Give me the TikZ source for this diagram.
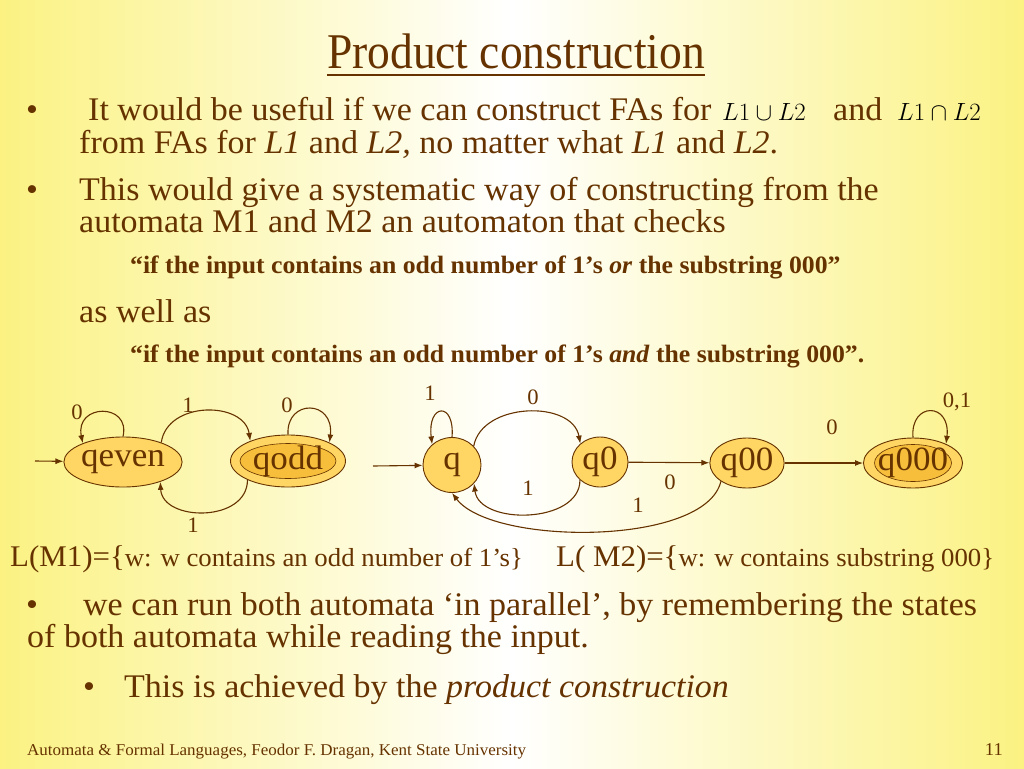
\documentclass[tikz,border=0pt]{standalone}
\usepackage{amsmath,amssymb}
\usepackage{fontspec}
\setmainfont[FakeStretch=1.03]{Liberation Serif}
\newfontfamily\titlefam[FakeStretch=0.91]{Liberation Serif}
\usepackage{xcolor}
\usetikzlibrary{arrows.meta,positioning,shapes.geometric}

\definecolor{textc}{RGB}{102,51,0}
\definecolor{bgy}{RGB}{251,242,130}
\definecolor{statec}{RGB}{255,214,100}
\definecolor{accin}{RGB}{246,190,58}

\newcommand{\bodyfont}{\fontsize{33}{38}\selectfont}
\newcommand{\quotefont}{\fontsize{25}{29}\selectfont\bfseries}
\newcommand{\labfont}{\fontsize{22}{24}\selectfont}
\newcommand{\smallset}{\fontsize{26}{28}\selectfont}

\begin{document}
\begin{tikzpicture}[
		x=1pt, y=1pt,
		txt/.style={anchor=base west, inner sep=0pt, text=textc, font=\bodyfont},
		qtxt/.style={anchor=base west, inner sep=0pt, text=textc, font=\quotefont},
		lab/.style={inner sep=0pt, text=textc, font=\labfont},
		state/.style={
			ellipse,
			draw=textc,
			fill=statec,
			line width=0.9pt,
			inner sep=0pt,
			text=textc,
			font=\fontsize{34}{34}\selectfont
		},
		accept/.style 2 args={
			path picture={\draw[textc, line width=0.6pt, fill=accin]
				(path picture bounding box.center) ellipse[x radius=#1, y radius=#2];}
		},
		edge/.style={-{Latex[length=8pt,width=6pt]}, draw=textc, line width=1.1pt}
		]
		% background
		\shade[left color=bgy, right color=bgy, middle color=white] (0,0) rectangle (1024,-768);
		\useasboundingbox (0,0) rectangle (1024,-768);

		% title
		\node[anchor=base, inner sep=0pt, text=textc, font=\titlefam\fontsize{50}{56}\selectfont] (title) at (516,-68) {Product construction};
		\draw[textc, line width=1.6pt] ([yshift=-7pt]title.base west) -- ([yshift=-7pt]title.base east);

		% bullets
		\node[txt] (b1) at (26,-120) {•};
		\node[txt] (l1) at (88,-120) {It would be useful if we can construct FAs for};
		\node[anchor=base west, inner sep=0pt, font=\fontsize{30}{34}\selectfont] (un) at (722,-120) {$L1\cup L2$};
		\node[txt] (and) at (833,-120) {and};
		\node[anchor=base west, inner sep=0pt, font=\fontsize{30}{34}\selectfont] (in) at (897,-120) {$L1\cap L2$};
		\node[txt] (l2) at (79,-153) {from FAs for \textit{L1} and \textit{L2,} no matter what \textit{L1} and \textit{L2}.};
		\node[txt] (b2) at (26,-200) {•};
		\node[txt] (l3) at (79,-200) {This would give a systematic way of constructing from the};
		\node[txt] (l4) at (79,-232) {automata M1 and M2 an automaton that checks};
		\node[qtxt] (q1) at (130,-273) {“if the input contains an odd number of 1’s \textit{or} the substring 000”};
		\node[txt] (l5) at (79,-322) {as well as};
		\node[qtxt] (q2) at (130,-362) {“if the input contains an odd number of 1’s \textit{and} the substring 000”.};

		% automaton M1
		\node[state, minimum width=113pt, minimum height=50pt] (qeven) at (123,-462) {qeven};
		\node[state, minimum width=115pt, minimum height=52pt, accept={48pt}{17.5pt}] (qodd) at (288,-461) {qodd};
		\coordinate (s1) at (35,-461);
		\draw[edge] (s1) -- (qeven);
		\draw[edge] (qeven.90) .. controls +(8,34) and +(-8,40) .. (qeven.155);
		\draw[edge] (qeven.27) .. controls +(6,42) and +(-6,40) .. (qodd.152);
		\draw[edge] (qodd.90) .. controls +(-2,36) and +(5,43) .. (qodd.24);
		\draw[edge] (qodd.205) .. controls +(0,-43) and +(2,-40) .. (qeven.332);
		\node[lab] (m1l0) at (77,-412) {0};
		\node[lab] (m1l1) at (188,-405) {1};
		\node[lab] (m1l2) at (287,-405) {0};
		\node[lab] (m1l3) at (193,-525) {1};

		% automaton M2
		\node[state, minimum width=58pt, minimum height=55pt] (q) at (452,-465) {q};
		\node[state, minimum width=56pt, minimum height=50pt] (q0) at (600,-462) {q0};
		\node[state, minimum width=68pt, minimum height=50pt] (q00) at (747,-463) {q00};
		\node[state, minimum width=93pt, minimum height=50pt, accept={38.5pt}{18.5pt}] (q000) at (913,-463) {q000};
		\coordinate (s2) at (373,-466);
		\draw[edge] (s2) -- (q);
		\draw[edge] (q.90) .. controls +(3,36) and +(-5,41) .. (q.134);
		\draw[edge] (q.41) .. controls +(8,44) and +(-8,44) .. (q0.137);
		\draw[edge] (q0.222) .. controls +(0,-44) and +(5,-42) .. (q.320);
		\draw[edge] (q0) -- (q00);
		\draw[edge] (q00.215) .. controls +(-15,-65) and +(40,-53) .. (q.270);
		\draw[edge] (q00) -- (q000);
		\draw[edge] (q000.90) .. controls +(-3,36) and +(5,42) .. (q000.30);
		\node[lab] (m2l0) at (430,-393) {1};
		\node[lab] (m2l1) at (533,-397) {0};
		\node[lab] (m2l2) at (528,-488) {1};
		\node[lab] (m2l3) at (670,-482) {0};
		\node[lab] (m2l4) at (638,-505) {1};
		\node[lab] (m2l5) at (832,-427) {0};
		\node[lab] (m2l6) at (957,-402) {0,1};

		% languages
		\node[txt, font=\fontsize{30}{34}\selectfont] (lm1) at (10,-566) {L(M1)=\{\smallset w: w contains an odd number of 1’s\}};
		\node[txt, font=\fontsize{30}{34}\selectfont] (lm2) at (556,-566) {L( M2)=\{\smallset w: w contains substring 000\}};

		% remaining bullets
		\node[txt] (b3) at (26,-615) {•};
		\node[txt] (l6) at (83,-615) {we can run both automata ‘in parallel’, by remembering the states};
		\node[txt] (l7) at (27,-647) {of both automata while reading the input.};
		\node[txt] (b4) at (83,-697) {•};
		\node[txt] (l8) at (124,-697) {This is achieved by the \textit{product construction}};

		% footer
		\node[anchor=base west, inner sep=0pt, text=textc, font=\fontsize{16.5}{18}\selectfont] (foot) at (27,-755) {Automata \& Formal Languages, Feodor F. Dragan, Kent State University};
		\node[anchor=base east, inner sep=0pt, text=textc, font=\fontsize{18}{20}\selectfont] (page) at (1003,-755) {11};
	\end{tikzpicture}
\end{document}
